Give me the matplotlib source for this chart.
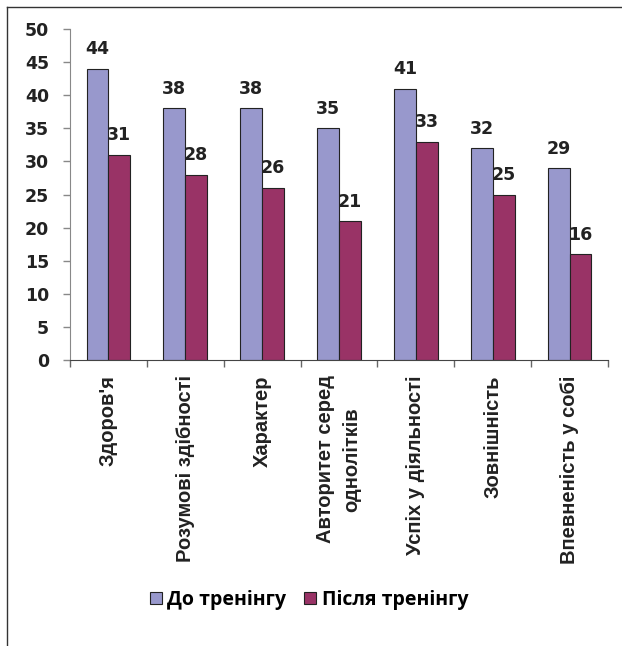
import numpy as np
import matplotlib
matplotlib.use("Agg")
import matplotlib.pyplot as plt
from matplotlib.lines import Line2D

categories = ["Здоров'я", "Розумові здібності", "Характер", "Авторитет серед\nоднолітків",
              "Успіх у діяльності", "Зовнішність", "Впевненість у собі"]
before = [44, 38, 38, 35, 41, 32, 29]
after = [31, 28, 26, 21, 33, 25, 16]
series_names = ["До тренінгу", "Після тренінгу"]
y_ticks = [0, 5, 10, 15, 20, 25, 30, 35, 40, 45, 50]

BLUE = "#9898CC"
MAROON = "#993366"

fig = plt.figure(figsize=(6.22, 6.46), dpi=100)
ax = fig.add_axes([70 / 622, 1 - 360 / 646, 538 / 622, 331 / 646])

x = np.arange(len(categories))
w = 0.285
b1 = ax.bar(x - w / 2, before, w, color=BLUE, edgecolor="#222222", linewidth=0.8, label=series_names[0])
b2 = ax.bar(x + w / 2, after, w, color=MAROON, edgecolor="#222222", linewidth=0.8, label=series_names[1])

for bars, vals in ((b1, before), (b2, after)):
    for rect, v in zip(bars, vals):
        ax.annotate(str(v), (rect.get_x() + rect.get_width() / 2, v),
                    xytext=(0, 7.5), textcoords="offset points",
                    ha="center", va="bottom", fontsize=12.5, fontweight="bold",
                    family="DejaVu Sans", color="#222222")

ax.set_xlim(-0.5, len(categories) - 0.5)
ax.set_ylim(0, 50)
ax.set_yticks(y_ticks)
ax.set_yticklabels([str(t) for t in y_ticks], fontsize=12.5, fontweight="bold",
                   family="DejaVu Sans", color="#222222")
ax.tick_params(axis="y", direction="out", length=5, width=1, color="#888888", pad=10)

ax.set_xticks(x)
ax.set_xticklabels(categories, rotation=90, ha="center", va="top", multialignment="center",
                   linespacing=1.5, fontsize=14.5, fontweight="bold", family="Liberation Sans",
                   color="#222222")
ax.tick_params(axis="x", which="major", length=0, pad=11)
ax.set_xticks(np.arange(len(categories) + 1) - 0.5, minor=True)
ax.tick_params(axis="x", which="minor", direction="out", length=5, width=1, color="#666666")

for side in ("top", "right"):
    ax.spines[side].set_visible(False)
ax.spines["left"].set_color("#888888")
ax.spines["bottom"].set_color("#444444")

handles = [plt.Rectangle((0, 0), 1, 1, facecolor=BLUE, edgecolor="#222222", linewidth=0.8),
           plt.Rectangle((0, 0), 1, 1, facecolor=MAROON, edgecolor="#222222", linewidth=0.8)]
fig.legend(handles, series_names, loc="center", bbox_to_anchor=(309 / 622, 1 - 600 / 646),
           ncol=2, frameon=False, handlelength=0.6, handleheight=0.6, handletextpad=0.3,
           columnspacing=0.9, prop={"family": "Open Sans", "weight": "bold", "size": 14})

# outer frame (only left and top edges visible)
fig.add_artist(Line2D([7 / 622, 7 / 622], [0, 1 - 7 / 646], transform=fig.transFigure, color="#333333", lw=1))
fig.add_artist(Line2D([7 / 622, 1], [1 - 7 / 646, 1 - 7 / 646], transform=fig.transFigure, color="#333333", lw=1))

fig.savefig("out.png", dpi=100)
